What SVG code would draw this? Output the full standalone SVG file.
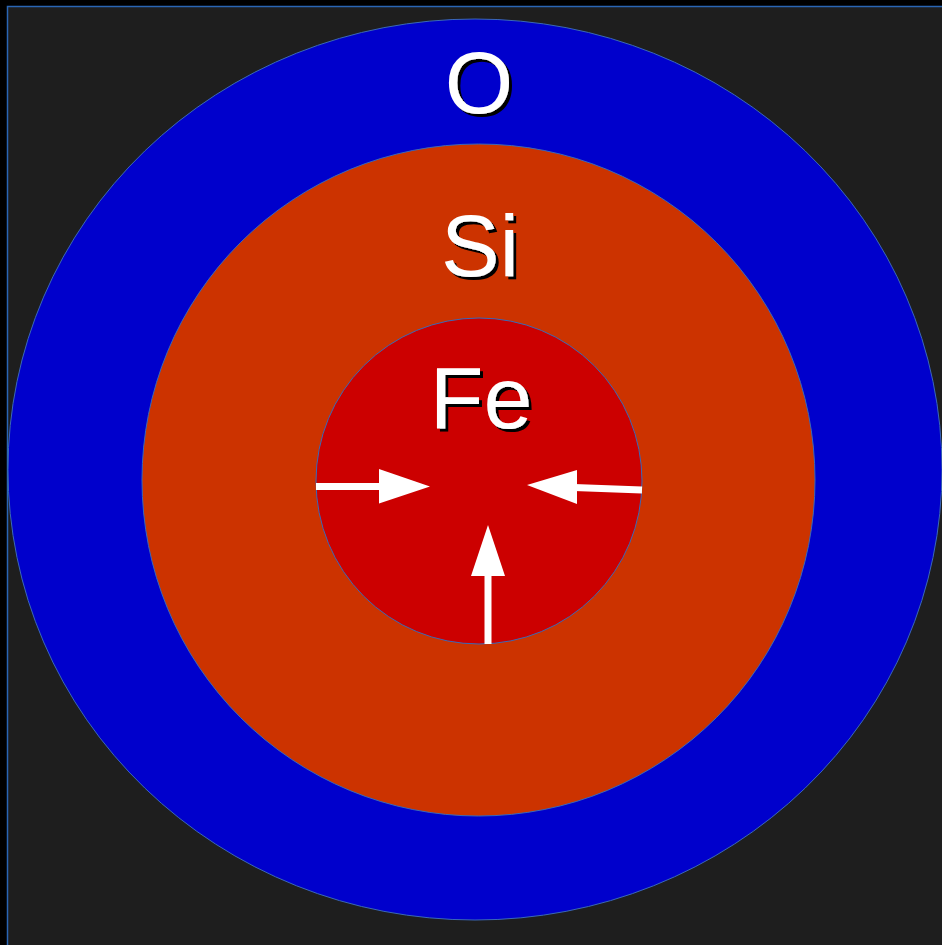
<svg xmlns="http://www.w3.org/2000/svg" width="942" height="945" viewBox="0 0 942 945">
<defs>
<filter id="shadow" x="-20%" y="-20%" width="140%" height="140%">
<feDropShadow dx="3" dy="3" stdDeviation="0.4" flood-color="#000" flood-opacity="1"/>
</filter>
</defs>
<style>
.lbl{font-family:"Liberation Sans",Arial,sans-serif;font-size:88px;text-anchor:middle;fill:#fff;filter:url(#shadow)}
.ring{stroke:#3a68b8;stroke-width:1}
.shaft{stroke:#fff;stroke-width:7;fill:none}
.head{fill:#fff}
</style>
<rect x="0" y="0" width="942" height="945" fill="#000"/>
<rect x="7.5" y="6.5" width="940" height="945" fill="#1e1e1e" stroke="#2a66b4" stroke-width="1.5"/>
<g id="oxygen">
<ellipse class="ring" cx="475" cy="469.5" rx="467" ry="450.5" fill="#0000cc"/>
<text class="lbl" x="479" y="113">O</text>
</g>
<g id="silicon">
<ellipse class="ring" cx="478.5" cy="480" rx="336.5" ry="336" fill="#cc3300"/>
<text class="lbl" x="480" y="276">Si</text>
</g>
<g id="iron">
<circle class="ring" cx="479" cy="481" r="163" fill="#cc0000"/>
<text class="lbl" x="481" y="428">Fe</text>
</g>
<g id="connectors">
<line class="shaft" x1="316" y1="486.5" x2="382" y2="486.5"/>
<polygon class="head" points="379,469 430,486.5 379,503.5"/>
<line class="shaft" x1="642" y1="490" x2="574" y2="487.5"/>
<polygon class="head" points="577,470 527,485 577,504"/>
<line class="shaft" x1="488" y1="644" x2="488" y2="573"/>
<polygon class="head" points="471,576 488,525 505,576"/>
</g>
</svg>
